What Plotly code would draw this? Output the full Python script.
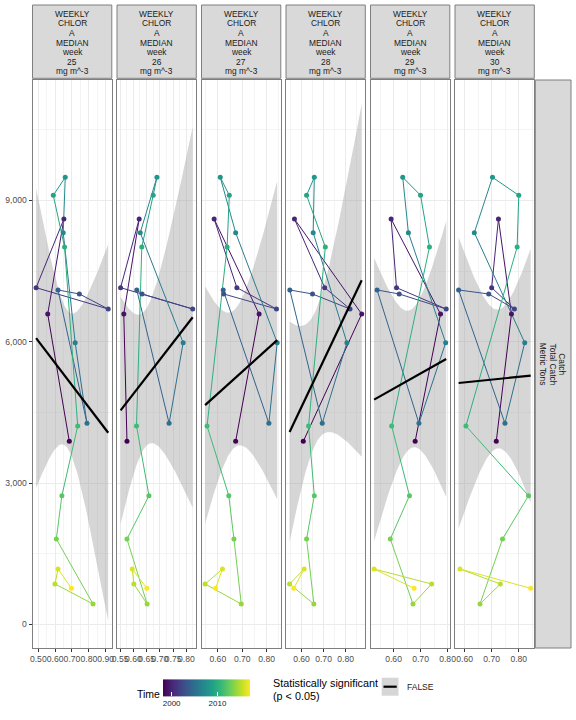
import numpy as np
import plotly.graph_objects as go
from plotly.colors import sample_colorscale

# ---------------- data ----------------
years = list(range(1998, 2018))
catch_mt = [3885, 6588, 8605, 7147, 6694, 7013, 7098, 4268, 5979, 8315,
            9490, 9108, 8010, 4210, 2731, 1811, 431, 856, 1174, 764]
weeks = [25, 26, 27, 28, 29, 30]
chl_w25 = [0.684, 0.556, 0.652, 0.487, 0.915, 0.744, 0.617, 0.789, 0.719, 0.648,
           0.660, 0.589, 0.656, 0.734, 0.640, 0.607, 0.825, 0.599, 0.617, 0.697]
chl_w26 = [0.576, 0.564, 0.622, 0.552, 0.824, 0.633, 0.613, 0.735, 0.788, 0.626,
           0.689, 0.675, 0.632, 0.612, 0.659, 0.576, 0.652, 0.602, 0.596, 0.651]
chl_w27 = [0.673, 0.769, 0.585, 0.678, 0.840, 0.624, 0.622, 0.809, 0.843, 0.673,
           0.610, 0.647, 0.638, 0.556, 0.645, 0.666, 0.696, 0.548, 0.619, 0.591]
chl_w28 = [0.608, 0.873, 0.568, 0.705, 0.820, 0.650, 0.547, 0.694, 0.806, 0.653,
           0.658, 0.623, 0.708, 0.632, 0.658, 0.623, 0.656, 0.546, 0.612, 0.565]
chl_w29 = [0.680, 0.774, 0.591, 0.611, 0.795, 0.621, 0.539, 0.694, 0.793, 0.655,
           0.634, 0.700, 0.733, 0.593, 0.659, 0.588, 0.672, 0.741, 0.528, 0.676]
chl_w30 = [0.717, 0.773, 0.725, 0.700, 0.784, 0.689, 0.578, 0.749, 0.822, 0.636,
           0.703, 0.800, 0.794, 0.605, 0.836, 0.740, 0.657, 0.732, 0.583, 0.844]
chl_panels = [chl_w25, chl_w26, chl_w27, chl_w28, chl_w29, chl_w30]
x_tickvals = [[0.5, 0.6, 0.7, 0.8, 0.9],
              [0.55, 0.60, 0.65, 0.70, 0.75, 0.80],
              [0.6, 0.7, 0.8], [0.6, 0.7, 0.8], [0.6, 0.7, 0.8], [0.6, 0.7, 0.8]]
y_tickvals = [0, 3000, 6000, 9000]
strip_lines = ["WEEKLY", "CHLOR", "A", "MEDIAN", "week", None, "mg m^-3"]
row_strip = ["Catch", "Total Catch", "Metric Tons"]

# ---------------- geometry (pixels) ----------------
W, H = 576, 720
PX0, PW, PG = 32.5, 79.3, 5.2
PY0, PY1 = 80, 648
FONT = "Liberation Sans, Arial, Helvetica, sans-serif"
YR = [-503, 11556]
TVAL = 2.100922  # t(0.975, df=18)

def px(x):
    return x / W

def py(y):
    return (H - y) / H

ycols = sample_colorscale("Viridis", [(yr - years[0]) / (years[-1] - years[0]) for yr in years])

def lm_band(x, y, n=80):
    x = np.asarray(x, float); y = np.asarray(y, float)
    b, a = np.polyfit(x, y, 1)
    xs = np.linspace(x.min(), x.max(), n)
    fit = a + b * xs
    resid = y - (a + b * x)
    s = np.sqrt((resid ** 2).sum() / (len(x) - 2))
    se = s * np.sqrt(1 / len(x) + (xs - x.mean()) ** 2 / ((x - x.mean()) ** 2).sum())
    return xs, fit, fit - TVAL * se, fit + TVAL * se

fig = go.Figure()
layout = dict(width=W, height=H, autosize=False, margin=dict(l=0, r=0, t=0, b=0, pad=0),
              plot_bgcolor="white", paper_bgcolor="white", showlegend=False,
              font=dict(family=FONT, color="#1a1a1a"))
shapes, annotations = [], []

for p, chl in enumerate(chl_panels):
    k = "" if p == 0 else str(p + 1)
    xa, ya = "x" + k, "y" + k
    left = PX0 + p * (PW + PG)
    right = left + PW
    xmin, xmax = min(chl), max(chl)
    ex = 0.05 * (xmax - xmin)
    tv = x_tickvals[p]
    step = tv[1] - tv[0]
    layout["xaxis" + k] = dict(
        domain=[px(left), px(right)], anchor=ya, range=[xmin - ex, xmax + ex], automargin=False,
        tickmode="array", tickvals=tv, ticktext=["%.2f" % v for v in tv], tickangle=0,
        ticks="outside", ticklen=3, tickcolor="#333333", tickwidth=1,
        tickfont=dict(size=8.6, color="#4d4d4d", family=FONT),
        showgrid=True, gridcolor="#ebebeb", gridwidth=1,
        minor=dict(tickmode="linear", tick0=tv[0] - step / 2, dtick=step,
                   showgrid=True, gridcolor="#f4f4f4", gridwidth=0.6, ticks=""),
        showline=True, mirror=True, linecolor="#7f7f7f", linewidth=1, zeroline=False)
    layout["yaxis" + k] = dict(
        domain=[py(PY1), py(PY0)], anchor=xa, range=YR, automargin=False,
        tickmode="array", tickvals=y_tickvals, tickformat=",",
        showticklabels=(p == 0), ticks="outside" if p == 0 else "", ticklen=3,
        tickcolor="#333333", tickwidth=1,
        tickfont=dict(size=8.6, color="#4d4d4d", family=FONT),
        showgrid=True, gridcolor="#ebebeb", gridwidth=1,
        minor=dict(tickmode="linear", tick0=1500, dtick=3000, showgrid=True,
                   gridcolor="#f4f4f4", gridwidth=0.6, ticks=""),
        showline=True, mirror=True, linecolor="#7f7f7f", linewidth=1, zeroline=False)

    # confidence ribbon + fitted line
    xs, fit, lo, hi = lm_band(chl, catch_mt)
    fig.add_trace(go.Scatter(x=np.concatenate([xs, xs[::-1]]), y=np.concatenate([hi, lo[::-1]]),
                             fill="toself", fillcolor="rgba(153,153,153,0.4)", mode="lines",
                             line=dict(width=0), hoverinfo="skip", xaxis=xa, yaxis=ya))
    # path segments coloured by start year
    for i in range(len(years) - 1):
        fig.add_trace(go.Scatter(x=[chl[i], chl[i + 1]], y=[catch_mt[i], catch_mt[i + 1]],
                                 mode="lines", line=dict(color=ycols[i], width=1),
                                 hoverinfo="skip", xaxis=xa, yaxis=ya))
    # points
    fig.add_trace(go.Scatter(
        x=chl, y=catch_mt, mode="markers", xaxis=xa, yaxis=ya,
        marker=dict(size=5, color=years, colorscale="Viridis", cmin=years[0], cmax=years[-1],
                    line=dict(width=0), showscale=(p == 0),
                    colorbar=dict(orientation="h", x=px((162.7 + 249.3) / 2), xanchor="center",
                                  y=py(713), yanchor="bottom", len=86.6 / W, lenmode="fraction",
                                  thickness=17, thicknessmode="pixels", xpad=0, ypad=0,
                                  tickmode="array", tickvals=[2000, 2010], ticks="inside",
                                  tickcolor="white", ticklen=4, outlinewidth=0,
                                  tickfont=dict(size=8, color="#1a1a1a", family=FONT)))))
    fig.add_trace(go.Scatter(x=xs, y=fit, mode="lines", line=dict(color="black", width=2.2),
                             hoverinfo="skip", xaxis=xa, yaxis=ya))

    # strip
    shapes.append(dict(type="rect", xref="paper", yref="paper", x0=px(left), x1=px(right),
                       y0=py(78.3), y1=py(5), fillcolor="#d9d9d9",
                       line=dict(color="#7f7f7f", width=1), layer="below"))
    for j, txt in enumerate(strip_lines):
        t = str(weeks[p]) if txt is None else txt
        annotations.append(dict(text=t, xref="paper", yref="paper", x=px((left + right) / 2),
                                y=py(14 + 9.5 * j), xanchor="center", yanchor="middle",
                                showarrow=False, font=dict(size=8.4, color="#1a1a1a", family=FONT)))

# right strip
shapes.append(dict(type="rect", xref="paper", yref="paper", x0=px(535.3), x1=px(571),
                   y0=py(PY1), y1=py(PY0), fillcolor="#d9d9d9",
                   line=dict(color="#7f7f7f", width=1), layer="below"))
for j, txt in enumerate(row_strip):
    annotations.append(dict(text=txt, xref="paper", yref="paper", x=px(561.7 - 9.2 * j),
                            y=py((PY0 + PY1) / 2), xanchor="center", yanchor="middle",
                            textangle=90, showarrow=False,
                            font=dict(size=8.4, color="#1a1a1a", family=FONT)))

# legends
annotations.append(dict(text="Time", xref="paper", yref="paper", x=px(135), y=py(694),
                        xanchor="left", yanchor="middle", showarrow=False,
                        font=dict(size=10.5, color="black", family=FONT)))
annotations.append(dict(text="Statistically significant", xref="paper", yref="paper",
                        x=px(270.7), y=py(683), xanchor="left", yanchor="middle", showarrow=False,
                        font=dict(size=10.8, color="black", family=FONT)))
annotations.append(dict(text="(p < 0.05)", xref="paper", yref="paper",
                        x=px(270.7), y=py(696), xanchor="left", yanchor="middle", showarrow=False,
                        font=dict(size=10.8, color="black", family=FONT)))
shapes.append(dict(type="rect", xref="paper", yref="paper", x0=px(381.7), x1=px(398.5),
                   y0=py(695.7), y1=py(677.7), fillcolor="#d6d6d6", line=dict(width=0)))
shapes.append(dict(type="line", xref="paper", yref="paper", x0=px(383.5), x1=px(396.7),
                   y0=py(686.7), y1=py(686.7), line=dict(color="black", width=2.2)))
annotations.append(dict(text="FALSE", xref="paper", yref="paper", x=px(405), y=py(687),
                        xanchor="left", yanchor="middle", showarrow=False,
                        font=dict(size=8.5, color="#1a1a1a", family=FONT)))

layout["shapes"] = shapes
layout["annotations"] = annotations
fig.update_layout(**layout)
fig.write_html("out.html", config={"displayModeBar": False})
